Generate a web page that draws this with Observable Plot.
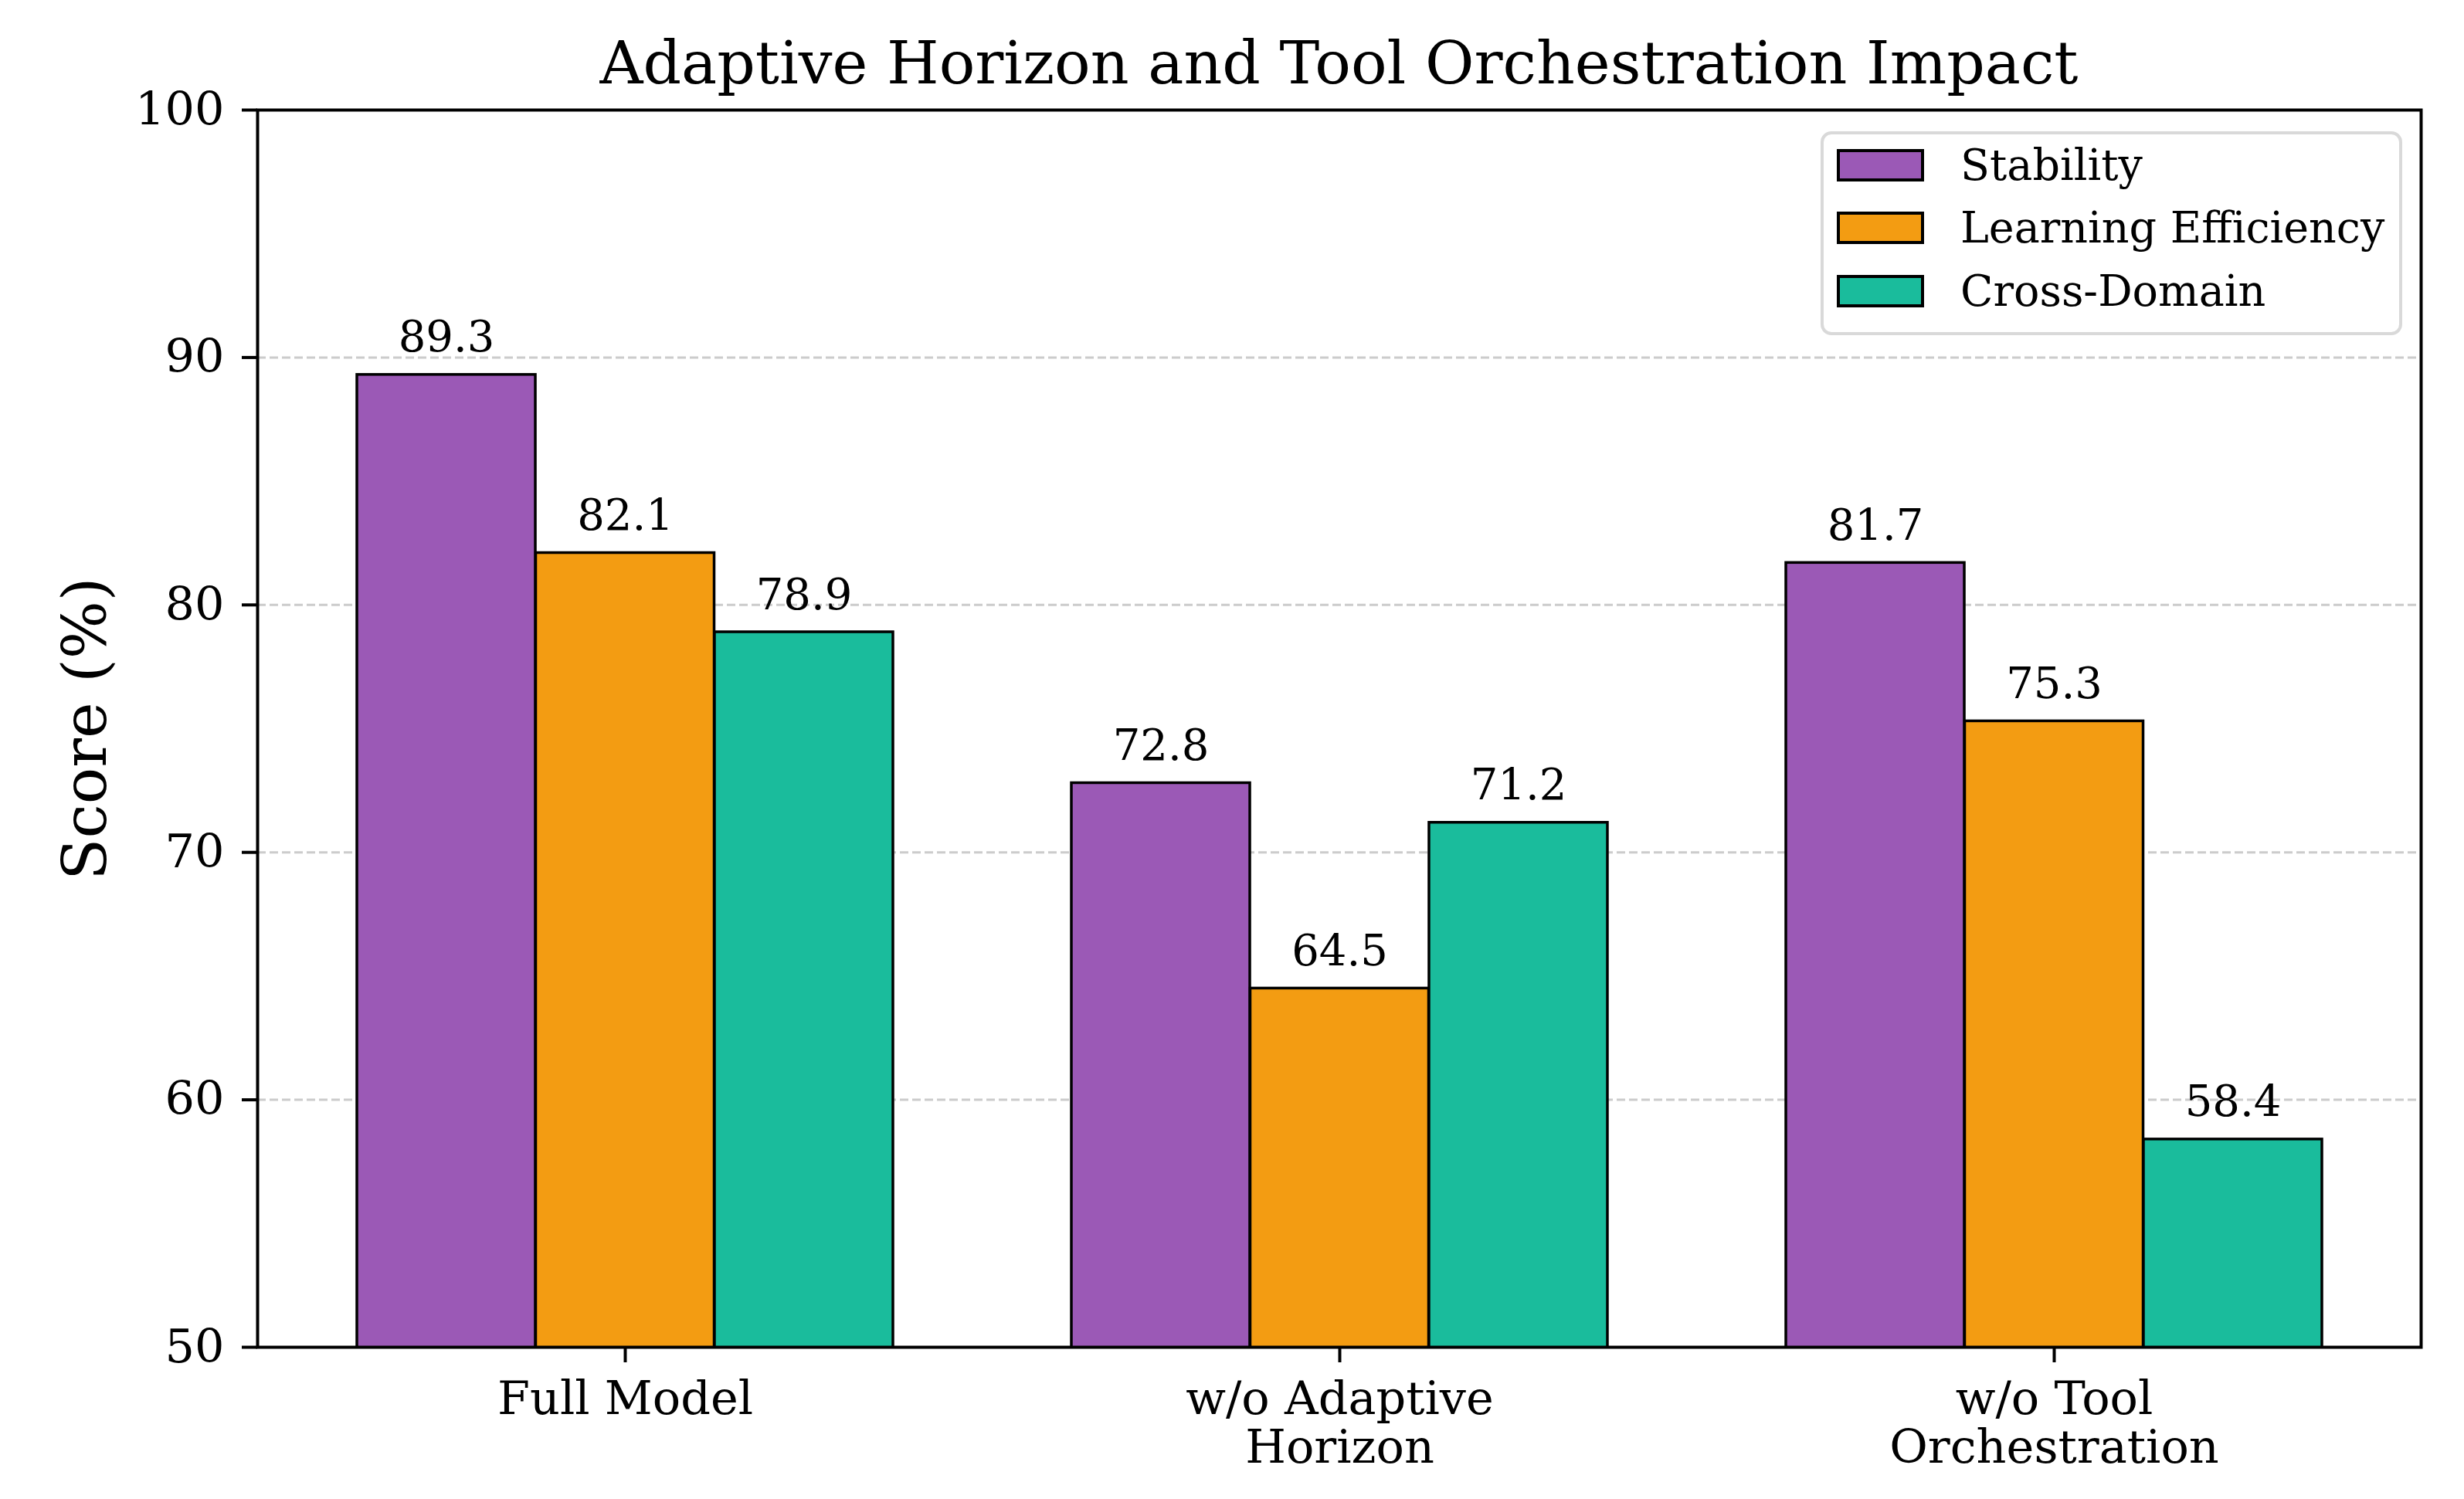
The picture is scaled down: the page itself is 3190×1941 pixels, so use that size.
<!DOCTYPE html>
<html>
<head>
<meta charset="utf-8">
<script src="https://cdn.jsdelivr.net/npm/d3@7"></script>
<script src="https://cdn.jsdelivr.net/npm/@observablehq/plot@0.6"></script>
<style>
  body { margin: 0; background: #fff; }
  #wrap { position: relative; width: 3190px; height: 1941px; font-family: "DejaVu Serif", serif; color: #000; }
  #title { position: absolute; left: 333px; width: 2801px; top: 35px; text-align: center; font-size: 77.5px; line-height: 92px; white-space: nowrap; }
  #legend { position: absolute; left: 2357px; top: 170px; width: 753px; height: 264px; border: 4px solid #d9d9d9; border-radius: 14px; box-sizing: border-box; background: rgba(255,255,255,0.85); }
  .item { position: absolute; left: 17px; height: 60px; display: flex; align-items: center; }
  .sw { width: 113px; height: 42px; border: 4px solid #000; box-sizing: border-box; margin-right: 47px; }
  .lab { font-size: 55.5px; line-height: 60px; white-space: nowrap; }
  svg { display: block; }
</style>
</head>
<body>
<div id="wrap">
  <div id="chart"></div>
  <div id="title"></div>
  <div id="legend"></div>
</div>
<script>
// ---- data ----
const title = "Adaptive Horizon and Tool Orchestration Impact";
const categories = ["Full Model", "w/o Adaptive\nHorizon", "w/o Tool\nOrchestration"];
const seriesNames = ["Stability", "Learning Efficiency", "Cross-Domain"];
const stability = [89.3, 72.8, 81.7];
const learningEfficiency = [82.1, 64.5, 75.3];
const crossDomain = [78.9, 71.2, 58.4];
const seriesColors = ["#9b59b6", "#f39c12", "#1abc9c"];
const yTicks = [50, 60, 70, 80, 90, 100];
const gridTicks = [60, 70, 80, 90];
const yLabel = "Score (%)";

// ---- layout ----
const W = 3190, H = 1941;
const mL = 333, mR = 56, mT = 142, mB = 197;
const padInner = 0.25, padOuter = 0.1375;
const step = (W - mL - mR) / (categories.length - padInner + 2 * padOuter);
const third = step * (1 - padInner) / seriesNames.length;

const seriesValues = [stability, learningEfficiency, crossDomain];
const rows = seriesValues.map(vals => categories.map((c, j) => ({cat: c, v: vals[j]})));

const marks = [
  Plot.ruleY(gridTicks, {stroke: "#cccccc", strokeWidth: 3, strokeDasharray: "11,5"})
];
rows.forEach((data, i) => {
  marks.push(Plot.barY(data, {
    x: "cat", y: "v", fill: seriesColors[i], stroke: "#000", strokeWidth: 3.5,
    insetLeft: i * third, insetRight: (seriesNames.length - 1 - i) * third, clip: true
  }));
  marks.push(Plot.text(data, {
    x: "cat", y: "v", text: d => d.v.toFixed(1), dx: (i - 1) * third, dy: -30,
    lineAnchor: "bottom", fontSize: 56, fill: "#000"
  }));
});
marks.push(
  Plot.axisY({ticks: yTicks, tickSize: 20, tickPadding: 23, fontSize: 60.5, label: null, strokeWidth: 4, tickFormat: d => String(d)}),
  Plot.axisX({tickSize: 20, tickPadding: 22, fontSize: 60.5, label: null, strokeWidth: 4, lineHeight: 1.04}),
  Plot.text([yLabel], {frameAnchor: "left", dx: -222, rotate: -90, fontSize: 79, textAnchor: "middle", fill: "#000"}),
  Plot.frame({stroke: "#000", strokeWidth: 4})
);

const chart = Plot.plot({
  width: W, height: H,
  marginLeft: mL, marginRight: mR, marginTop: mT, marginBottom: mB,
  style: {fontFamily: "DejaVu Serif", background: "#fff", color: "#000"},
  x: {type: "band", domain: categories, paddingInner: padInner, paddingOuter: padOuter, align: 0.5},
  y: {domain: [50, 100]},
  marks
});
document.getElementById("chart").appendChild(chart);
document.getElementById("title").textContent = title;

// legend
const legend = document.getElementById("legend");
const rowTops = [10, 91, 173];
seriesNames.forEach((name, i) => {
  const it = document.createElement("div");
  it.className = "item";
  it.style.top = rowTops[i] + "px";
  const sw = document.createElement("div");
  sw.className = "sw";
  sw.style.background = seriesColors[i];
  const lab = document.createElement("div");
  lab.className = "lab";
  lab.textContent = name;
  it.appendChild(sw); it.appendChild(lab);
  legend.appendChild(it);
});
</script>
</body>
</html>
